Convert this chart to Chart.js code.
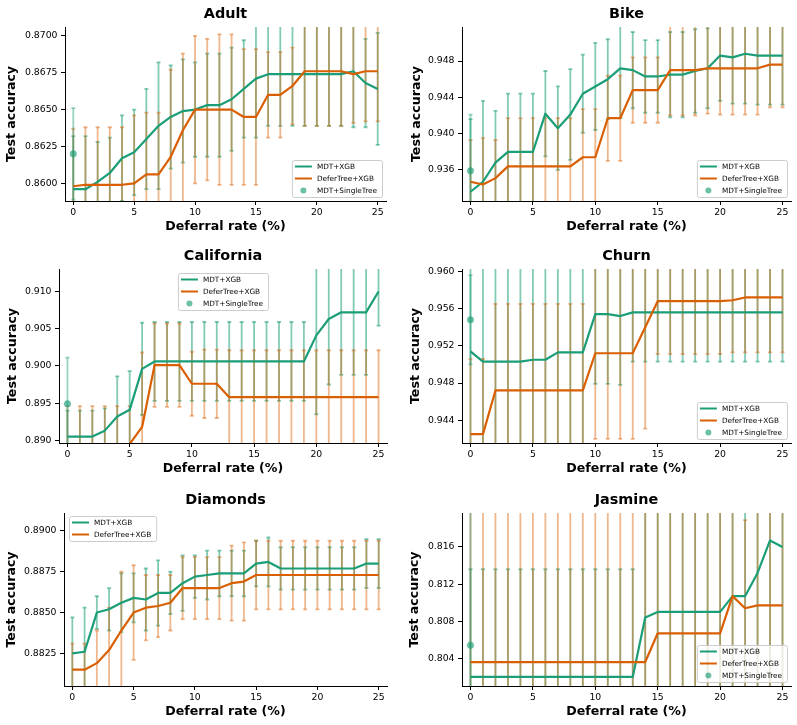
<!DOCTYPE html>
<html>
<head>
<meta charset="utf-8">
<script src="https://cdn.jsdelivr.net/npm/chart.js@4.4.1/dist/chart.umd.min.js"></script>
<style>
  html, body { margin: 0; padding: 0; background: #fff; }
  body { width: 797px; height: 725px; position: relative; overflow: hidden; }
  canvas { position: absolute; }
</style>
</head>
<body>
<script>
// eje x: tasa de diferimiento (%)
const deferral = [0,1,2,3,4,5,6,7,8,9,10,11,12,13,14,15,16,17,18,19,20,21,22,23,24,25];
const xTicks = [0, 5, 10, 15, 20, 25];
const xRange = [-0.68, 25.68];

// Adult
const adultMdt = [0.8596,0.8596,0.8601,0.8607,0.8617,0.8621,0.8630,0.8639,0.8645,0.8649,0.8650,0.8653,0.8653,0.8657,0.8664,0.8671,0.8674,0.8674,0.8674,0.8674,0.8674,0.8674,0.8674,0.8676,0.8668,0.8664];
const adultMdtErr = [0.0036,0.0036,0.0027,0.0024,0.0029,0.0029,0.0034,0.0043,0.0035,0.0035,0.0032,0.0035,0.0035,0.0035,0.0033,0.0040,0.0035,0.0035,0.0035,0.0035,0.0035,0.0035,0.0035,0.0038,0.0030,0.0038];
const adultDefer = [0.8598,0.8599,0.8599,0.8599,0.8599,0.8600,0.8606,0.8606,0.8618,0.8636,0.8650,0.8650,0.8650,0.8650,0.8645,0.8645,0.8660,0.8660,0.8666,0.8676,0.8676,0.8676,0.8676,0.8674,0.8676,0.8676];
const adultDeferErr = [0.0039,0.0039,0.0039,0.0039,0.0039,0.0046,0.0042,0.0042,0.0059,0.0052,0.0050,0.0048,0.0051,0.0051,0.0046,0.0046,0.0029,0.0029,0.0026,0.0037,0.0037,0.0037,0.0037,0.0033,0.0034,0.0034];
const adultSingle = [0.8620];
const adultSingleErr = [0.0031];
const adultRange = [0.8588, 0.8706];
const adultTicks = [0.8600, 0.8625, 0.8650, 0.8675, 0.8700];

// Bike
const bikeMdt = [0.9336,0.9347,0.9368,0.9380,0.9380,0.9380,0.9422,0.9406,0.9421,0.9444,0.9452,0.9460,0.9472,0.9470,0.9463,0.9463,0.9465,0.9465,0.9469,0.9472,0.9486,0.9484,0.9488,0.9486,0.9486,0.9486];
const bikeMdtErr = [0.0080,0.0089,0.0057,0.0064,0.0064,0.0064,0.0047,0.0046,0.0050,0.0043,0.0048,0.0044,0.0055,0.0042,0.0040,0.0040,0.0047,0.0047,0.0046,0.0044,0.0050,0.0051,0.0055,0.0054,0.0054,0.0054];
const bikeDefer = [0.9347,0.9344,0.9351,0.9364,0.9364,0.9364,0.9364,0.9364,0.9364,0.9374,0.9374,0.9417,0.9417,0.9448,0.9448,0.9448,0.9470,0.9470,0.9470,0.9472,0.9472,0.9472,0.9472,0.9472,0.9476,0.9476];
const bikeDeferErr = [0.0046,0.0051,0.0042,0.0053,0.0053,0.0053,0.0053,0.0053,0.0053,0.0053,0.0053,0.0047,0.0047,0.0036,0.0036,0.0036,0.0050,0.0050,0.0050,0.0050,0.0051,0.0051,0.0051,0.0051,0.0047,0.0047];
const bikeSingle = [0.9359];
const bikeSingleErr = [0.0062];
const bikeRange = [0.93258, 0.95175];
const bikeTicks = [0.936, 0.940, 0.944, 0.948];

// California
const calMdt = [0.8905,0.8905,0.8905,0.8913,0.8932,0.8941,0.8996,0.9006,0.9006,0.9006,0.9006,0.9006,0.9006,0.9006,0.9006,0.9006,0.9006,0.9006,0.9006,0.9006,0.9041,0.9063,0.9072,0.9072,0.9072,0.9100];
const calMdtErr = [0.0035,0.0035,0.0035,0.0030,0.0054,0.0052,0.0062,0.0053,0.0053,0.0053,0.0053,0.0053,0.0053,0.0053,0.0053,0.0053,0.0053,0.0053,0.0053,0.0053,0.0106,0.0088,0.0084,0.0084,0.0084,0.0046];
const calDefer = [0.8886,0.8886,0.8886,0.8886,0.8886,0.8895,0.8918,0.9001,0.9001,0.9001,0.8976,0.8976,0.8976,0.8958,0.8958,0.8958,0.8958,0.8958,0.8958,0.8958,0.8958,0.8958,0.8958,0.8958,0.8958,0.8958];
const calDeferErr = [0.0060,0.0060,0.0060,0.0060,0.0060,0.0051,0.0100,0.0056,0.0056,0.0056,0.0043,0.0046,0.0046,0.0063,0.0063,0.0063,0.0063,0.0063,0.0063,0.0063,0.0063,0.0063,0.0063,0.0063,0.0063,0.0063];
const calSingle = [0.8949];
const calSingleErr = [0.0062];
const calRange = [0.88964, 0.91302];
const calTicks = [0.890, 0.895, 0.900, 0.905, 0.910];

// Churn
const churnMdt = [0.9514,0.9503,0.9503,0.9503,0.9503,0.9505,0.9505,0.9513,0.9513,0.9513,0.9554,0.9554,0.9552,0.9556,0.9556,0.9556,0.9556,0.9556,0.9556,0.9556,0.9556,0.9556,0.9556,0.9556,0.9556,0.9556];
const churnMdtErr = [0.0110,0.0110,0.0110,0.0110,0.0110,0.0110,0.0110,0.0110,0.0110,0.0110,0.0075,0.0075,0.0074,0.0053,0.0053,0.0053,0.0053,0.0053,0.0053,0.0053,0.0053,0.0053,0.0053,0.0053,0.0053,0.0053];
const churnDefer = [0.9425,0.9425,0.9472,0.9472,0.9472,0.9472,0.9472,0.9472,0.9472,0.9472,0.9512,0.9512,0.9512,0.9512,0.9540,0.9568,0.9568,0.9568,0.9568,0.9568,0.9568,0.9569,0.9572,0.9572,0.9572,0.9572];
const churnDeferErr = [0.0081,0.0081,0.0093,0.0093,0.0093,0.0093,0.0093,0.0093,0.0093,0.0093,0.0092,0.0092,0.0092,0.0092,0.0109,0.0057,0.0057,0.0057,0.0057,0.0057,0.0057,0.0056,0.0059,0.0059,0.0059,0.0059];
const churnSingle = [0.9548];
const churnSingleErr = [0.0048];
const churnRange = [0.94155, 0.96026];
const churnTicks = [0.944, 0.948, 0.952, 0.956, 0.960];

// Diamonds (sin MDT+SingleTree)
const diaMdt = [0.8825,0.8826,0.8850,0.8852,0.8856,0.8859,0.8858,0.8862,0.8862,0.8868,0.8872,0.8873,0.8874,0.8874,0.8874,0.8880,0.8881,0.8877,0.8877,0.8877,0.8877,0.8877,0.8877,0.8877,0.8880,0.8880];
const diaMdtErr = [0.0022,0.0027,0.0010,0.0013,0.0018,0.0015,0.0019,0.0020,0.0013,0.0017,0.0013,0.0015,0.0014,0.0014,0.0014,0.0014,0.0015,0.0013,0.0013,0.0013,0.0013,0.0013,0.0013,0.0013,0.0015,0.0015];
const diaDefer = [0.8815,0.8815,0.8819,0.8827,0.8839,0.8850,0.8853,0.8854,0.8856,0.8865,0.8865,0.8865,0.8865,0.8868,0.8869,0.8873,0.8873,0.8873,0.8873,0.8873,0.8873,0.8873,0.8873,0.8873,0.8873,0.8873];
const diaDeferErr = [0.0016,0.0016,0.0020,0.0026,0.0036,0.0029,0.0020,0.0019,0.0017,0.0019,0.0019,0.0019,0.0019,0.0023,0.0024,0.0021,0.0021,0.0021,0.0021,0.0021,0.0021,0.0021,0.0021,0.0021,0.0021,0.0021];
const diaRange = [0.8805, 0.8911];
const diaTicks = [0.8825, 0.8850, 0.8875, 0.8900];

// Jasmine
const jasMdt = [0.8020,0.8020,0.8020,0.8020,0.8020,0.8020,0.8020,0.8020,0.8020,0.8020,0.8020,0.8020,0.8020,0.8020,0.8084,0.8090,0.8090,0.8090,0.8090,0.8090,0.8090,0.8107,0.8107,0.8132,0.8167,0.8160];
const jasMdtErr = [0.0116,0.0116,0.0116,0.0116,0.0116,0.0116,0.0116,0.0116,0.0116,0.0116,0.0116,0.0116,0.0116,0.0116,0.0180,0.0180,0.0180,0.0180,0.0180,0.0180,0.0180,0.0180,0.0180,0.0180,0.0180,0.0180];
const jasDefer = [0.8036,0.8036,0.8036,0.8036,0.8036,0.8036,0.8036,0.8036,0.8036,0.8036,0.8036,0.8036,0.8036,0.8036,0.8036,0.8067,0.8067,0.8067,0.8067,0.8067,0.8067,0.8107,0.8094,0.8097,0.8097,0.8097];
const jasDeferErr = [0.0200,0.0200,0.0200,0.0200,0.0200,0.0200,0.0200,0.0200,0.0200,0.0200,0.0200,0.0200,0.0200,0.0200,0.0200,0.0200,0.0200,0.0200,0.0200,0.0200,0.0200,0.0200,0.0095,0.0200,0.0200,0.0200];
const jasSingle = [0.8054];
const jasSingleErr = [0.0200];
const jasRange = [0.80102, 0.81966];
const jasTicks = [0.804, 0.808, 0.812, 0.816];

const GREEN = '#1b9e77';
const ORANGE = '#d95f02';
const FONT = 'DejaVu Sans';

Chart.defaults.font.family = FONT;
Chart.defaults.color = '#000';

// box = [izq, arriba, der, abajo] del area de dibujo en pixeles
const panels = [
  {title: 'Adult', mdt: adultMdt, mdtErr: adultMdtErr, defer: adultDefer, deferErr: adultDeferErr,
   single: adultSingle, singleErr: adultSingleErr, range: adultRange, ticks: adultTicks, dec: 4,
   legend: 'lower right', box: [65, 27, 386, 201], labelPad: 4},
  {title: 'Bike', mdt: bikeMdt, mdtErr: bikeMdtErr, defer: bikeDefer, deferErr: bikeDeferErr,
   single: bikeSingle, singleErr: bikeSingleErr, range: bikeRange, ticks: bikeTicks, dec: 3,
   legend: 'lower right', box: [462, 27, 791, 201], labelPad: 12},
  {title: 'California', mdt: calMdt, mdtErr: calMdtErr, defer: calDefer, deferErr: calDeferErr,
   single: calSingle, singleErr: calSingleErr, range: calRange, ticks: calTicks, dec: 3,
   legend: 'upper center', box: [59, 269, 387, 443], labelPad: 11},
  {title: 'Churn', mdt: churnMdt, mdtErr: churnMdtErr, defer: churnDefer, deferErr: churnDeferErr,
   single: churnSingle, singleErr: churnSingleErr, range: churnRange, ticks: churnTicks, dec: 3,
   legend: 'lower right', box: [462, 269, 791, 443], labelPad: 11},
  {title: 'Diamonds', mdt: diaMdt, mdtErr: diaMdtErr, defer: diaDefer, deferErr: diaDeferErr,
   single: null, singleErr: null, range: diaRange, ticks: diaTicks, dec: 4,
   legend: 'upper left', box: [64, 513, 387, 686], labelPad: 5.5},
  {title: 'Jasmine', mdt: jasMdt, mdtErr: jasMdtErr, defer: jasDefer, deferErr: jasDeferErr,
   single: jasSingle, singleErr: jasSingleErr, range: jasRange, ticks: jasTicks, dec: 3,
   legend: 'lower right', box: [462, 513, 791, 686], labelPad: 10.5}
];

// barras de error (simetricas) con remate
const errorBars = {
  id: 'errorBars',
  beforeDatasetsDraw(chart) {
    const {ctx, chartArea: a, scales: {x, y}} = chart;
    ctx.save();
    ctx.beginPath();
    ctx.rect(a.left, a.top, a.right - a.left, a.bottom - a.top);
    ctx.clip();
    chart.data.datasets.forEach(ds => {
      if (!ds.err) return;
      ctx.strokeStyle = ds.errColor;
      ctx.lineWidth = 1.8;
      ds.data.forEach((p, j) => {
        const px = x.getPixelForValue(p.x);
        const top = y.getPixelForValue(p.y + ds.err[j]);
        const bot = y.getPixelForValue(p.y - ds.err[j]);
        ctx.beginPath();
        ctx.moveTo(px, top); ctx.lineTo(px, bot);
        ctx.stroke();
        ctx.beginPath();
        ctx.moveTo(px - 2, top); ctx.lineTo(px + 2, top);
        ctx.moveTo(px - 2, bot); ctx.lineTo(px + 2, bot);
        ctx.stroke();
      });
    });
    ctx.restore();
  }
};

function titleAndLegend(p) {
  return {
    id: 'titleAndLegend',
    afterDraw(chart) {
      const {ctx, chartArea: a} = chart;
      ctx.save();
      // titulo
      ctx.font = 'bold 14.4px ' + FONT;
      ctx.fillStyle = '#000';
      ctx.textAlign = 'center';
      ctx.textBaseline = 'alphabetic';
      ctx.fillText(p.title, (a.left + a.right) / 2, a.top - 9);

      // leyenda
      const items = chart.data.datasets.filter(d => d.label);
      ctx.font = '7.3px ' + FONT;
      const textW = Math.max(...items.map(d => ctx.measureText(d.label).width));
      const w = 3 + 17 + 5 + textW + 5;
      const h = items.length * 12 + 1;
      let lx, ly;
      if (p.legend === 'lower right') { lx = a.right - 4 - w; ly = a.bottom - 4 - h; }
      else if (p.legend === 'upper center') { lx = (a.left + a.right) / 2 - w / 2; ly = a.top + 4; }
      else { lx = a.left + 5; ly = a.top + 3; }
      ctx.fillStyle = 'rgba(255,255,255,0.8)';
      ctx.strokeStyle = '#cccccc';
      ctx.lineWidth = 1;
      ctx.beginPath();
      ctx.roundRect(lx + 0.5, ly + 0.5, w, h, 2);
      ctx.fill();
      ctx.stroke();
      items.forEach((d, i) => {
        const cy = ly + 6.5 + i * 12;
        if (d.showLine === false) {
          ctx.fillStyle = d.pointBackgroundColor;
          ctx.beginPath();
          ctx.arc(lx + 3 + 8.5, cy, 3, 0, Math.PI * 2);
          ctx.fill();
        } else {
          ctx.strokeStyle = d.borderColor;
          ctx.lineWidth = 2;
          ctx.beginPath();
          ctx.moveTo(lx + 3, cy); ctx.lineTo(lx + 20, cy);
          ctx.stroke();
        }
        ctx.fillStyle = '#000';
        ctx.textAlign = 'left';
        ctx.textBaseline = 'middle';
        ctx.fillText(d.label, lx + 25, cy + 0.5);
      });
      ctx.restore();
    }
  };
}

function pts(vals) {
  return vals.map((v, i) => ({x: deferral[i], y: v}));
}

panels.forEach(p => {
  const [L, T, R, B] = p.box;
  const cv = document.createElement('canvas');
  const cw = R - L + 65 + 6, ch = B - T + 27 + 38;
  cv.width = cw; cv.height = ch;
  cv.style.left = (L - 65) + 'px';
  cv.style.top = (T - 27) + 'px';
  cv.style.width = cw + 'px';
  cv.style.height = ch + 'px';
  document.body.appendChild(cv);

  const datasets = [
    {label: 'MDT+XGB', data: pts(p.mdt), err: p.mdtErr, errColor: 'rgba(27,158,119,0.55)',
     borderColor: GREEN, borderWidth: 2.2, pointRadius: 0, tension: 0, borderJoinStyle: 'round', order: 2},
    {label: 'DeferTree+XGB', data: pts(p.defer), err: p.deferErr, errColor: 'rgba(217,95,2,0.45)',
     borderColor: ORANGE, borderWidth: 2.2, pointRadius: 0, tension: 0, borderJoinStyle: 'round', order: 1}
  ];
  if (p.single) {
    datasets.push({label: 'MDT+SingleTree', data: [{x: 0, y: p.single[0]}], err: p.singleErr,
      errColor: 'rgba(27,158,119,0.45)', showLine: false, pointRadius: 3.5, pointBorderWidth: 0,
      pointBackgroundColor: 'rgba(27,158,119,0.65)', borderColor: 'rgba(27,158,119,0.65)', order: 0});
  }

  new Chart(cv, {
    type: 'line',
    data: {datasets},
    options: {
      responsive: false,
      animation: false,
      devicePixelRatio: 1,
      events: [],
      layout: {padding: {top: 27, right: 6, bottom: 0, left: 0}},
      plugins: {legend: {display: false}, tooltip: {enabled: false}, title: {display: false}},
      scales: {
        x: {
          type: 'linear', min: xRange[0], max: xRange[1],
          afterBuildTicks: s => { s.ticks = xTicks.map(v => ({value: v})); },
          afterFit: s => { s.height = 38; },
          ticks: {font: {size: 9.3}, padding: 2, maxRotation: 0, callback: v => String(v)},
          grid: {drawOnChartArea: false, drawTicks: true, tickLength: 4, color: '#000'},
          border: {display: true, color: '#000', width: 1},
          title: {display: true, text: 'Deferral rate (%)', font: {size: 12.6, weight: 'bold'},
                  padding: {top: 0, bottom: 4.4}}
        },
        y: {
          type: 'linear', min: p.range[0], max: p.range[1],
          afterBuildTicks: s => { s.ticks = p.ticks.map(v => ({value: v})); },
          afterFit: s => { s.width = 65; },
          ticks: {font: {size: 9.3}, padding: 3.5, callback: v => v.toFixed(p.dec)},
          grid: {drawOnChartArea: false, drawTicks: true, tickLength: 4, color: '#000'},
          border: {display: true, color: '#000', width: 1},
          title: {display: true, text: 'Test accuracy', font: {size: 12.6, weight: 'bold'},
                  padding: {top: p.labelPad, bottom: 0}}
        }
      }
    },
    plugins: [errorBars, titleAndLegend(p)]
  });
});
</script>
</body>
</html>
